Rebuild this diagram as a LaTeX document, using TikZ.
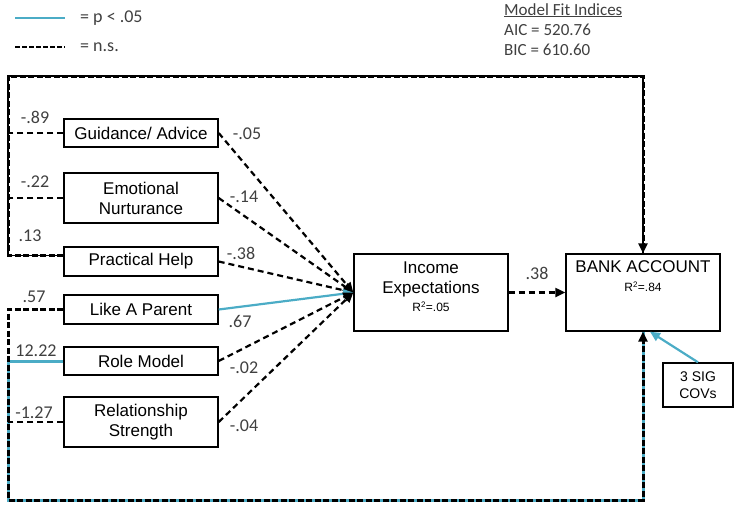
\documentclass[tikz,border=0pt]{standalone}
\usepackage{fontspec}
\setmainfont{Carlito}
\newfontfamily\boxfont{Liberation Sans}
\usetikzlibrary{arrows.meta,calc}
\definecolor{sigblue}{RGB}{75,172,198}
\definecolor{txtgray}{RGB}{64,64,64}
\tikzset{
  box/.style={draw, line width=1.4pt, font=\boxfont\fontsize{17}{20}\selectfont, align=center, inner sep=0pt, minimum width=154pt},
  ns/.style={draw=black, line width=2.2pt, dash pattern=on 6pt off 4pt},
  loop/.style={draw=black, line width=3pt, dash pattern=on 6pt off 2.5pt},
  sig/.style={draw=sigblue, line width=2.2pt},
  coef/.style={font=\fontsize{18}{20}\selectfont, text=txtgray, inner sep=0pt},
  tip/.style={-{Triangle[length=10pt,width=9pt]}}
}
\begin{document}
\begin{tikzpicture}[x=1pt, y=-1pt]
        \useasboundingbox (0,0) rectangle (735,507);
            % loop corners
            \coordinate (TL) at (8,76);
            \coordinate (TR) at (643,76);
            \coordinate (BL) at (8,500);
            \coordinate (BR) at (643,500);

      % predictors
      \node[box, minimum height=28pt] (guid) at (141,133) {Guidance/ Advice};
      \node[box, minimum height=50pt] (emot) at (141,198) {Emotional\\Nurturance};
      \node[box, minimum height=29pt] (pract) at (141,261.5) {Practical Help};
      \node[box, minimum height=29pt] (parent) at (141,309.5) {Like A Parent};
      \node[box, minimum height=28pt] (role) at (141,361) {Role Model};
      \node[box, minimum height=50pt] (rel) at (141,422) {Relationship\\Strength};

      % outcomes
      \node[box, minimum height=77pt, text depth=11pt] (income) at (431,292.5) {Income\\Expectations\\[-2pt]{\fontsize{12}{14}\selectfont R\textsuperscript{2}=.05}};
      \node[box, minimum height=77pt, label={[anchor=north, align=center, yshift=-4pt, font=\boxfont\fontsize{17}{19}\selectfont]north:BANK ACCOUNT\\{\fontsize{12}{14}\selectfont R\textsuperscript{2}=.84}}] (bank) at (643,292.5) {};
      \node[box, minimum width=70pt, minimum height=44pt, font=\boxfont\fontsize{14}{17}\selectfont] (covs) at (698,385) {3 SIG\\COVs};
      \coordinate (bankin) at ($(bank.south)+(7,0)$);
      \coordinate (practout) at ($(pract.west)+(0,-6)$);

      % paths to income
      \draw [ns, tip] (guid.east) -- (income.west);
      \draw [ns, tip] (emot.east) -- (income.west);
      \draw [ns, tip] (pract.east) -- (income.west);
      \draw [sig, tip] (parent.east) -- (income.west);
      \draw [ns, tip] (role.east) -- (income.west);
      \draw [ns, tip] (rel.east) -- (income.west);
      \draw [ns, tip] (income.east) -- (bank.west);

      % direct paths to bank account
      \draw [line width=1.2pt] (practout) -| (TL) -- (TR) -- (bank.north);
      \draw [loop, tip] (practout) -| (TL) -- (TR) -- (bank.north);
      \draw [ns] (guid.west) -- (guid.west -| TL);
      \draw [ns] (emot.west) -- (emot.west -| TL);
      \draw [sig, line width=3pt] (role.west) -| (BL) -- (BR) -- (bank.south);
      \draw [loop, tip] (parent.west) -| (BL) -- (BR) -- (bank.south);
      \draw [ns] (rel.west) -- (rel.west -| BL);
      \draw [sig, tip] (covs.north) -- (bankin);

      % coefficients
      \node[coef] (cGuidI) at (247,134) {-.05};
      \node[coef] (cEmotI) at (244,197) {-.14};
      \node[coef] (cPractI) at (241,253) {-.38};
      \node[coef] (cParentI) at (240,321) {.67};
      \node[coef] (cRoleI) at (244,368) {-.02};
      \node[coef] (cRelI) at (244,426) {-.04};
      \node[coef] (cIncB) at (537,273) {.38};
      \node[coef] (cGuidB) at (35,117) {-.89};
      \node[coef] (cEmotB) at (35,182) {-.22};
      \node[coef] (cPractB) at (30,236) {.13};
      \node[coef] (cParentB) at (34,297) {.57};
      \node[coef] (cRoleB) at (36,351) {12.22};
      \node[coef] (cRelB) at (34,413) {-1.27};

      % legend
      \coordinate (sigA) at (15,18);
      \coordinate (sigB) at (65,18);
      \coordinate (nsA) at (15,47);
      \coordinate (nsB) at (65,47);
      \draw [sig, line width=2.8pt] (sigA) -- (sigB);
      \draw [ns, dash pattern=on 5pt off 2pt] (nsA) -- (nsB);
      \node[coef, anchor=west] (sigtxt) at (80,18) {= p < .05};
      \node[coef, anchor=west] (nstxt) at (80,47) {= n.s.};
      \node[coef, font=\fontsize{17}{20}\selectfont, anchor=north west, align=left] (fit) at (504,3) {\underline{Model Fit Indices}\\AIC = 520.76\\BIC = 610.60};

      \end{tikzpicture}
\end{document}
